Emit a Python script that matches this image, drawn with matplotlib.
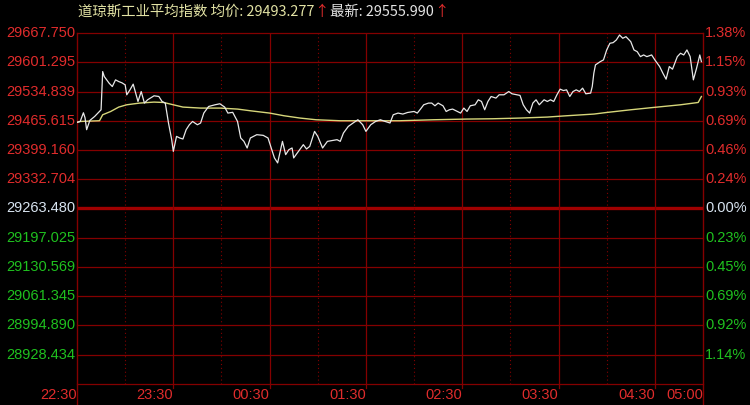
import numpy as np
import matplotlib
matplotlib.use('Agg')
import matplotlib.pyplot as plt

# price line: minutes since 22:30 and index value
minutes = [0, 2, 4, 5, 6, 8, 11, 14, 15, 16, 17, 20, 22, 24, 26, 28, 30, 31, 33, 35,
           38, 40, 42, 44, 48, 51, 53, 55, 57, 59, 60, 62, 64, 66, 68, 70, 72, 75, 77, 79,
           82, 86, 89, 92, 94, 97, 100, 102, 104, 106, 108, 112, 116, 119, 121, 123, 125, 128, 130, 132,
           134, 135, 138, 141, 143, 145, 148, 150, 153, 156, 159, 162, 164, 166, 169, 172, 175, 178, 180, 183,
           186, 189, 192, 195, 197, 200, 203, 206, 210, 212, 214, 216, 219, 221, 223, 225, 228, 230, 232, 234,
           237, 239, 241, 243, 245, 248, 250, 252, 254, 256, 258, 261, 263, 266, 269, 271, 274, 276, 278, 280,
           282, 284, 286, 288, 291, 293, 295, 297, 299, 301, 303, 305, 307, 309, 311, 313, 315, 317, 320, 321,
           322, 323, 326, 328, 330, 332, 334, 336, 338, 340, 342, 345, 347, 349, 351, 353, 355, 358, 360, 363,
           365, 367, 369, 371, 374, 376, 378, 380, 382, 384, 386, 388, 389]
prices = [29462.0, 29464.0, 29484.0, 29472.5, 29445.0, 29466.3, 29475.5, 29487.0, 29490.9, 29578.9,
          29567.4, 29552.2, 29544.4, 29559.8, 29555.9, 29553.0, 29548.3, 29525.4, 29536.8, 29549.9,
          29510.0, 29532.9, 29506.3, 29513.9, 29523.1, 29521.5, 29510.0, 29506.3, 29460.4, 29422.0,
          29395.1, 29429.6, 29425.9, 29423.6, 29445.0, 29456.4, 29464.0, 29456.4, 29460.4, 29483.3,
          29498.5, 29502.4, 29504.7, 29497.1, 29483.3, 29485.0, 29464.0, 29425.9, 29418.1, 29402.9,
          29425.9, 29433.5, 29432.0, 29425.9, 29402.9, 29380.0, 29368.5, 29418.1, 29387.5, 29399.0,
          29402.9, 29380.0, 29395.1, 29410.5, 29400.6, 29406.6, 29441.1, 29429.6, 29402.9, 29418.1,
          29420.0, 29422.0, 29418.1, 29437.4, 29452.5, 29460.4, 29467.9, 29456.4, 29441.1, 29456.4,
          29464.0, 29467.9, 29464.0, 29460.4, 29479.4, 29483.3, 29481.0, 29484.7, 29487.0, 29483.3,
          29492.5, 29502.4, 29506.3, 29506.3, 29500.1, 29506.3, 29500.1, 29487.0, 29490.9, 29492.5,
          29487.0, 29483.3, 29494.8, 29487.0, 29500.1, 29502.4, 29513.9, 29510.0, 29490.9, 29510.0,
          29521.5, 29517.8, 29525.4, 29525.4, 29532.9, 29527.7, 29525.4, 29524.0, 29502.4, 29490.9,
          29483.3, 29506.3, 29513.9, 29502.4, 29513.9, 29510.0, 29513.9, 29510.0, 29525.4, 29538.4,
          29535.2, 29536.8, 29521.5, 29532.9, 29536.8, 29532.9, 29540.7, 29527.7, 29529.3, 29544.4,
          29575.2, 29594.3, 29601.8, 29605.8, 29628.7, 29644.1, 29645.5, 29651.7, 29663.2, 29655.6,
          29659.3, 29647.8, 29628.7, 29624.8, 29613.3, 29617.2, 29613.3, 29617.2, 29605.8, 29590.4,
          29575.2, 29561.4, 29590.4, 29584.4, 29613.3, 29621.1, 29617.2, 29628.7, 29613.3, 29559.8,
          29586.7, 29617.2, 29601.8]

# average price line
avg_minutes = [0, 2, 14, 16, 21, 26, 31, 39, 48, 54, 60, 66, 77, 89, 100, 108, 120, 129, 139, 149,
               164, 180, 201, 222, 243, 259, 276, 293, 305, 322, 330, 345, 359, 376, 387, 389]
avg_prices = [29462.0, 29464.0, 29465.6, 29479.4, 29487.0, 29497.1, 29502.4, 29506.3, 29508.6, 29507.7,
              29502.4, 29497.1, 29494.8, 29494.8, 29492.5, 29488.6, 29483.3, 29477.1, 29471.8, 29467.9,
              29465.6, 29465.6, 29465.6, 29467.9, 29469.5, 29470.2, 29471.8, 29474.1, 29477.1, 29481.0,
              29484.7, 29490.9, 29496.2, 29502.4, 29507.7, 29521.5]

base = 29263.48
top = 29667.75
left_up = ['29667.750', '29601.295', '29534.839', '29465.615', '29399.160', '29332.704']
base_label = '29263.480'
left_down = ['29197.025', '29130.569', '29061.345', '28994.890', '28928.434']
pct_up = ['1.38%', '1.15%', '0.93%', '0.69%', '0.46%', '0.24%']
pct_down = ['0.23%', '0.45%', '0.69%', '0.92%', '1.14%']
time_ticks = [0, 60, 120, 180, 240, 300, 360, 390]
time_labels = ['22:30', '23:30', '00:30', '01:30', '02:30', '03:30', '04:30', '05:00']

RED = '#e02c2c'
GREEN = '#1fc01f'
GRID = '#840000'
WHITE_LBL = '#d8e4f0'

plt.rcParams['font.family'] = ['Liberation Sans', 'DejaVu Sans']

W, H = 750, 405
fig = plt.figure(figsize=(7.5, 4.05), dpi=100, facecolor='black')
ax = fig.add_axes([77 / W, 21 / H, 626 / W, 351 / H], facecolor='black')
step = (top - base) / 6
ax.set_xlim(0, 390)
ax.set_ylim(base - 6 * step, base + 6 * step)
for s in ax.spines.values():
    s.set_visible(False)
ax.set_xticks([])
ax.set_yticks([])

# horizontal grid
for k in range(-6, 7):
    if k == 0:
        ax.axhline(base, color='#a00000', lw=2.4, zorder=1)
    else:
        ax.axhline(base + k * step, color=GRID, lw=0.9, zorder=1, clip_on=False)

# vertical grid
for m in range(30, 390, 30):
    if m % 60 == 0:
        ax.axvline(m, color=GRID, lw=0.9, zorder=1)
        ax.axvline(m, ymin=-4 / 351, ymax=0, color=GRID, lw=0.9, clip_on=False)
    else:
        ax.axvline(m, color=GRID, lw=0.8, ls=(0, (1, 2.5)), zorder=1)
for m in (0, 390):
    ax.axvline(m, ymin=-21 / 351, ymax=1, color=GRID, lw=1.0, clip_on=False, zorder=1)

ax.plot(avg_minutes, avg_prices, color='#d6d67a', lw=1.0, zorder=3)
ax.plot(minutes, prices, color='#e8e8e8', lw=0.9, zorder=4)

ytr = ax.get_yaxis_transform()
fs = 10.5
for i, lab in enumerate(left_up):
    y = base + (6 - i) * step
    ax.text(-2 / 626, y, lab, transform=ytr, ha='right', va='center', color=RED, fontsize=fs)
    ax.text(1 + 2 / 626, y, pct_up[i], transform=ytr, ha='left', va='center', color=RED, fontsize=fs)
ax.text(-2 / 626, base, base_label, transform=ytr, ha='right', va='center', color=WHITE_LBL, fontsize=fs)
ax.text(1 + 2 / 626, base, '0.00%', transform=ytr, ha='left', va='center', color=WHITE_LBL, fontsize=fs)
for i, lab in enumerate(left_down):
    y = base - (i + 1) * step
    ax.text(-2 / 626, y, lab, transform=ytr, ha='right', va='center', color=GREEN, fontsize=fs)
    ax.text(1 + 2 / 626, y, pct_down[i], transform=ytr, ha='left', va='center', color=GREEN, fontsize=fs)

xtr = ax.get_xaxis_transform()
for t, lab in zip(time_ticks, time_labels):
    ax.text(t, -11 / 351, lab, transform=xtr, ha='right', va='center', color=RED, fontsize=fs)

# title, pieces placed one after another
cjk = ['Noto Sans CJK SC', 'DejaVu Sans']
pieces = [('道琼斯工业平均指数 均价: 29493.277', '#e2e2a4', 0),
          ('↑', RED, 1),
          ('最新: 29555.990', '#e4e4e4', 0),
          ('↑', RED, 0)]
renderer = fig.canvas.get_renderer()
x = 78.0
for txt, col, gap in pieces:
    t = fig.text(x / W, 1 - 12 / H, txt, color=col, fontsize=10.4, family=cjk,
                 va='center', ha='left')
    x = t.get_window_extent(renderer).x1 + gap

fig.savefig('out.png', dpi=100, facecolor='black')
